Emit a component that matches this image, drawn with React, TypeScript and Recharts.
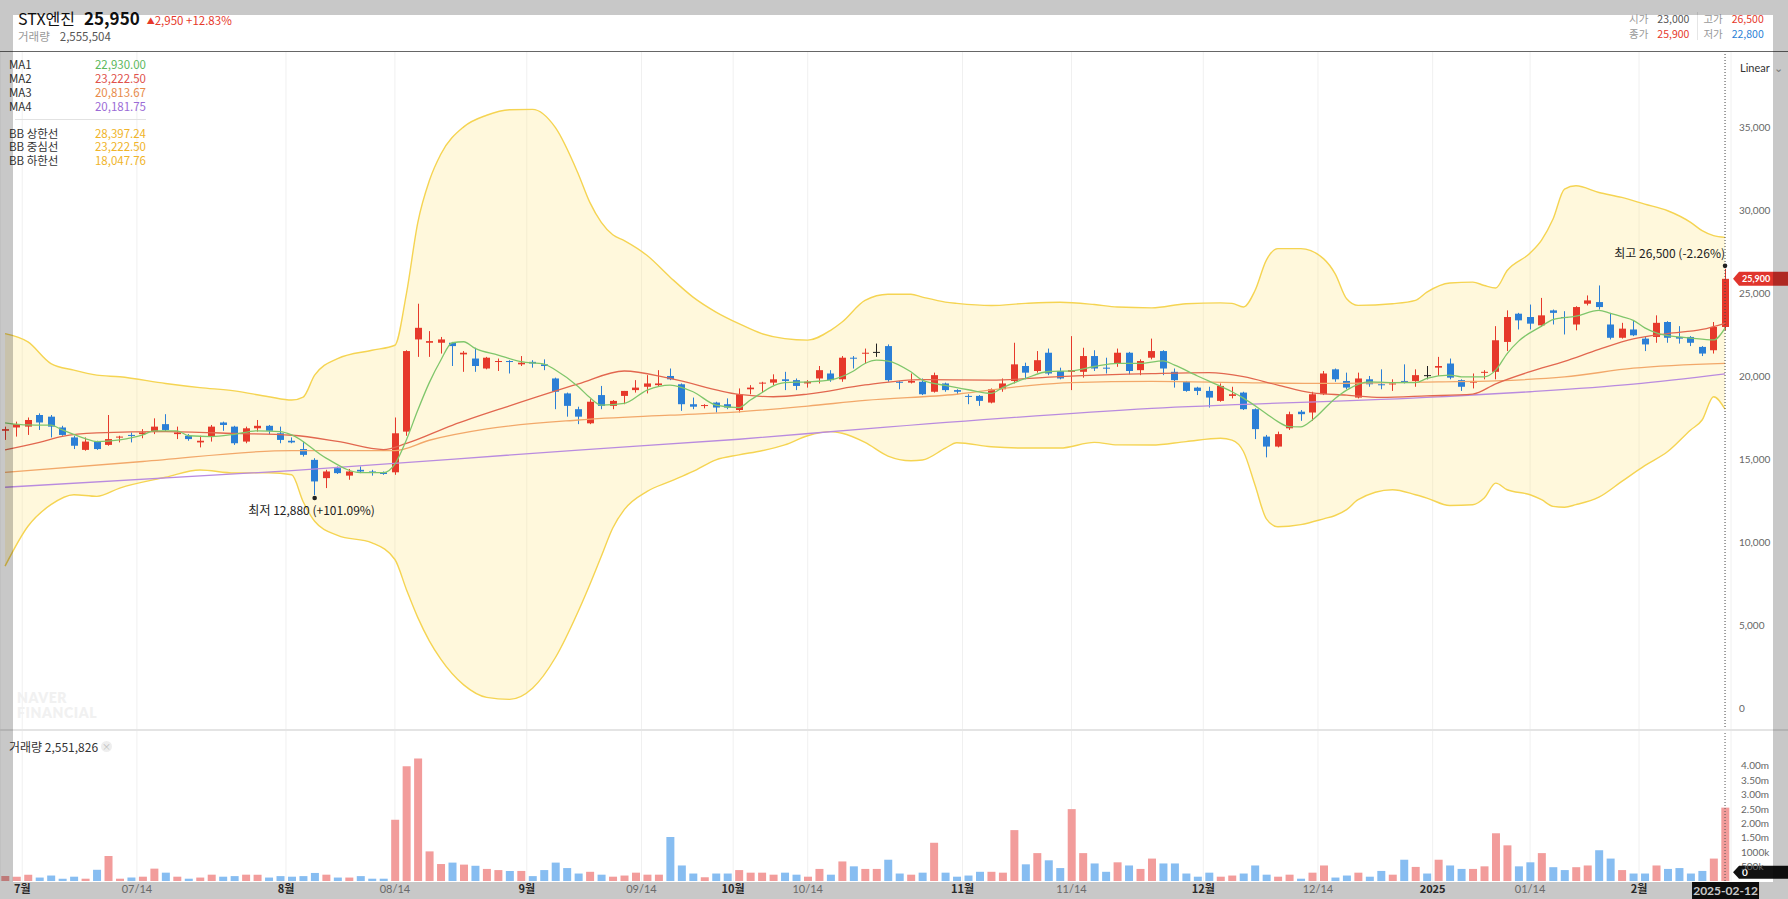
import React from "react";
import {
  ComposedChart,
  Bar,
  Line,
  Area,
  XAxis,
  YAxis,
  CartesianGrid,
  ReferenceLine,
  ReferenceDot,
  Cell,
} from "recharts";

// daily candles, 2024-06-27 .. 2025-02-12 (index 0..150)
const opens = [
  16750, 16950, 17000, 17700, 17600, 16950, 16350, 15600, 16100, 15900,
  16350, 16500, 16550, 16700, 17150, 16550, 16450, 16050, 16400, 17250,
  17000, 16100, 16900, 17050, 16600, 16150, 15650, 15000, 13900, 14500,
  14050, 14400, 14300, 14250, 14250, 16700, 22250, 22050, 22050, 22050,
  21350, 21100, 20500, 20900, 20950, 20750, 20900, 20750, 19900, 19000,
  18050, 17200, 18900, 18250, 18850, 19200, 19400, 19500, 20050, 19550,
  18350, 18250, 18450, 18350, 18000, 19250, 19600, 19650, 19850, 19800,
  19600, 19900, 20200, 19850, 21150, 21400, 21500, 21850, 19700, 19650,
  19700, 19100, 19600, 19200, 18850, 18850, 18450, 19250, 19750, 20650,
  20350, 21450, 20350, 20300, 20300, 21250, 20550, 20800, 21450, 20400,
  21150, 21550, 20300, 19700, 19350, 19150, 18550, 18850, 19050, 18050,
  16400, 15800, 16900, 17900, 17850, 18950, 20450, 19750, 18750, 19850,
  19550, 19550, 19750, 19750, 20100, 20550, 20800, 19800, 19650, 20250,
  20300, 22100, 23800, 23600, 23100, 24000, 23600, 23150, 24400, 24500,
  23150, 22350, 22850, 22300, 22400, 23300, 22400, 22400, 21800, 21600,
  23000,
];
const highs = [
  17000, 17300, 17550, 17800, 17700, 17050, 16450, 16350, 16150, 17700,
  16450, 16650, 16850, 17500, 17750, 17000, 16550, 16450, 17100, 17300,
  17050, 17000, 17400, 17100, 17000, 16350, 16100, 15100, 14400, 14600,
  14450, 14600, 14400, 14300, 17550, 21600, 24400, 22750, 22400, 22100,
  21550, 21750, 21200, 21100, 21000, 21250, 21000, 21050, 19950, 19050,
  18200, 18650, 19450, 18600, 19150, 19800, 20100, 20400, 20500, 19600,
  18750, 18350, 18500, 18700, 19300, 19500, 19700, 20150, 20300, 19900,
  19800, 20650, 20400, 21250, 21250, 21700, 22000, 21950, 19750, 20200,
  19900, 20250, 19650, 19250, 18950, 18900, 19300, 19900, 22050, 20850,
  21550, 21700, 20550, 22450, 21750, 21600, 21150, 21700, 21500, 21050,
  22300, 21600, 20500, 19750, 19400, 19400, 19600, 19400, 19100, 18100,
  16500, 16700, 17900, 18000, 19100, 20350, 20500, 20250, 20250, 20050,
  20450, 19850, 20750, 20450, 20650, 21200, 21100, 19850, 20200, 20400,
  23050, 24000, 23850, 24350, 24750, 24050, 23950, 24250, 24900, 25500,
  23850, 23250, 23400, 22400, 23700, 23350, 23050, 22450, 21850, 23300,
  26500,
];
const lows = [
  16200, 16400, 16500, 16800, 16350, 16450, 15650, 15550, 15600, 15850,
  16050, 16050, 16300, 16550, 16700, 16250, 16150, 15750, 16100, 16750,
  15900, 16000, 16700, 16550, 16000, 16000, 15200, 12880, 13300, 14150,
  13800, 14200, 14050, 14100, 14100, 16450, 21200, 21200, 21400, 20650,
  20300, 20300, 20450, 20350, 20200, 20650, 20550, 20400, 18050, 17600,
  17150, 17150, 18050, 18050, 18350, 19050, 19000, 19400, 19800, 17950,
  18050, 18100, 17850, 18050, 17850, 18950, 19050, 19500, 19200, 19200,
  19350, 19600, 19700, 19700, 20500, 20800, 21200, 19700, 19250, 19600,
  18900, 19050, 19100, 18950, 18350, 18250, 18400, 19100, 19600, 19850,
  20250, 20100, 19850, 19200, 19950, 20350, 20200, 20600, 20150, 20100,
  21050, 20100, 19350, 19100, 18900, 18150, 18500, 18700, 18000, 16250,
  15150, 15750, 16800, 17350, 17350, 18900, 19700, 19250, 18700, 19400,
  19250, 19150, 19600, 19400, 19850, 20050, 19850, 19150, 19300, 19850,
  19850, 21550, 22850, 22850, 23000, 23150, 22550, 22800, 24300, 24050,
  22250, 22300, 22450, 21550, 22050, 22050, 22000, 21850, 21250, 21400,
  22800,
];
const closes = [
  16850, 17150, 17400, 17250, 17000, 16500, 15850, 16100, 15650, 16250,
  16400, 16450, 16650, 17000, 16800, 16650, 16250, 16150, 17000, 17100,
  16000, 16900, 17050, 16750, 16200, 16050, 15300, 13700, 14300, 14200,
  14300, 14300, 14250, 14150, 16600, 21550, 22950, 22150, 22250, 21850,
  21450, 20650, 21150, 20950, 20900, 20850, 20800, 20650, 19100, 18250,
  17600, 18500, 18250, 18550, 19150, 19350, 19600, 19600, 19850, 18350,
  18200, 18300, 18150, 18150, 18950, 19350, 19650, 19850, 19750, 19450,
  19700, 20400, 19800, 21150, 21100, 21450, 21500, 19800, 19650, 19750,
  18950, 20100, 19200, 19100, 18800, 18550, 19250, 19600, 20750, 20250,
  21000, 20200, 19900, 20400, 21250, 20500, 20500, 21450, 20350, 20950,
  21550, 20500, 19800, 19150, 19150, 18750, 19450, 18950, 18050, 16850,
  15800, 16550, 17750, 17750, 18950, 20200, 19850, 19350, 19900, 19550,
  19500, 19600, 19700, 20100, 20100, 20650, 19950, 19400, 19750, 20300,
  22200, 23600, 23400, 23200, 23700, 23850, 23550, 24200, 24600, 24200,
  22350, 22900, 22500, 21950, 23250, 22350, 22300, 22050, 21400, 23000,
  25900,
];
// volume in thousands of shares
const volumesK = [
  170, 150, 220, 120, 190, 80, 150, 80, 390, 870,
  80, 120, 150, 430, 290, 150, 80, 120, 220, 150,
  170, 220, 220, 120, 170, 150, 170, 280, 220, 120,
  120, 170, 80, 80, 2130, 3990, 4260, 1030, 590, 640,
  570, 530, 420, 380, 350, 350, 170, 380, 640, 450,
  260, 320, 220, 150, 190, 290, 220, 220, 1530, 540,
  260, 130, 260, 260, 380, 290, 290, 220, 290, 220,
  150, 420, 220, 680, 510, 420, 420, 740, 260, 220,
  290, 1330, 290, 150, 190, 320, 320, 290, 1770, 580,
  970, 720, 450, 2500, 970, 610, 320, 650, 540, 420,
  780, 610, 610, 260, 150, 290, 150, 190, 260, 540,
  220, 150, 220, 80, 290, 540, 120, 190, 290, 150,
  350, 220, 740, 490, 260, 740, 540, 420, 420, 510,
  1660, 1240, 510, 650, 970, 480, 380, 480, 540, 1070,
  780, 380, 260, 260, 540, 420, 450, 260, 350, 780,
  2552,
];

// moving averages: [index, value]
const ma1Pts = [
  [0, 17230], [2, 17100], [4, 17090], [5, 16800], [7, 16280], [8, 16100], [10, 16200],
  [12, 16500], [13, 16750], [15, 16750], [16, 16450], [18, 16400], [20, 16540], [22, 16750],
  [24, 16700], [25, 16500], [28, 15100], [31, 14230], [33, 14230], [34, 14750], [35, 16200],
  [36, 18000], [37, 19650], [38, 21000], [39, 22050], [40, 22110], [41, 21710], [43, 21310],
  [45, 20910], [47, 20770], [48, 20410], [50, 19400], [51, 18750], [52, 18300], [54, 18400],
  [56, 19200], [58, 19500], [60, 19100], [62, 18300], [64, 18150], [65, 18600], [68, 19650],
  [70, 19700], [72, 19820], [74, 20350], [75, 20800], [76, 21000], [77, 20950], [79, 20300],
  [80, 19800], [82, 19480], [84, 19220], [86, 19000], [87, 19350], [89, 19900], [91, 20320],
  [93, 20360], [95, 20620], [97, 20810], [99, 20810], [101, 20960], [102, 20700], [104, 20050],
  [105, 19740], [107, 19100], [108, 18720], [110, 17780], [111, 17300], [112, 17000], [113, 16990],
  [114, 17400], [116, 18700], [117, 19200], [119, 19700], [121, 19650], [123, 19650], [124, 19900],
  [126, 20100], [127, 20000], [129, 20000], [130, 20400], [131, 21400], [132, 22150], [134, 23050],
  [135, 23450], [137, 23650], [139, 24000], [140, 23820], [141, 23620], [142, 23400], [143, 22950],
  [144, 22650], [145, 22480], [146, 22400], [147, 22330], [149, 22220], [150, 22930],
];
const ma2Pts = [
  [0, 15600], [3, 16050], [5, 16420], [8, 16620], [14, 16700], [20, 16590], [25, 16480],
  [29, 16110], [33, 15620], [35, 15990], [39, 17080], [44, 18250], [50, 19570], [54, 20350],
  [58, 19900], [64, 18940], [67, 18800], [70, 18960], [75, 19510], [80, 19830], [86, 19800],
  [92, 20010], [100, 20190], [105, 20250], [108, 20010], [111, 19500], [114, 19030], [117, 18900],
  [120, 18760], [124, 18850], [128, 18960], [130, 19580], [133, 20310], [136, 20930], [139, 21650],
  [142, 22280], [145, 22600], [148, 22850], [150, 23222],
];
const ma3Pts = [
  [0, 14250], [12, 14900], [25, 15560], [34, 15560], [37, 16180], [42, 16860], [50, 17400],
  [58, 17690], [64, 17890], [70, 18240], [75, 18580], [83, 18950], [89, 19450], [93, 19650],
  [100, 19720], [108, 19650], [114, 19600], [125, 19700], [130, 19760], [136, 19990], [142, 20520],
  [150, 20814],
];
const ma4Pts = [
  [0, 13350], [25, 14350], [50, 15590], [64, 16240], [75, 16870], [100, 18100], [125, 18790],
  [133, 19100], [142, 19560], [150, 20182],
];
// bollinger band: [index, upper, lower]
const bbPts = [
  [0, 22600, 8600], [2, 22100, 11000], [4, 20800, 12300], [6, 20400, 12900], [8, 20100, 12800],
  [10, 20000, 13300], [14, 19600, 13950], [17, 19350, 14390], [20, 19150, 14210], [23, 18800, 14225],
  [25, 18600, 14100], [26, 18780, 12480], [27, 20100, 11300], [29, 21100, 10450], [32, 21600, 10000],
  [34, 21900, 9000], [35, 25000, 7200], [36, 29300, 5500], [37, 31800, 4100], [38, 33400, 3000],
  [40, 35050, 1450], [42, 35750, 700], [44, 36080, 580], [46, 36100, 1250], [48, 35000, 3100],
  [50, 32200, 5900], [51, 30500, 7500], [52, 29300, 9200], [53, 28550, 10900], [54, 28200, 12000],
  [56, 27300, 13100], [58, 26000, 13700], [60, 24800, 14300], [62, 23900, 15000], [64, 23200, 15300],
  [66, 22600, 15550], [68, 22300, 15900], [70, 22210, 16450], [72, 22800, 16700], [73, 23300, 16600],
  [75, 24600, 16050], [77, 24970, 15230], [79, 24970, 14950], [80, 24800, 14990], [82, 24500, 15700],
  [83, 24420, 16030], [86, 24290, 15790], [89, 24420, 15710], [92, 24490, 15710], [95, 24350, 16050],
  [97, 24200, 15900], [100, 24150, 15890], [103, 24400, 16100], [106, 24450, 16300], [107, 24420, 16190],
  [108, 24200, 15500], [109, 25180, 13500], [110, 27030, 11450], [111, 27720, 10970], [113, 27720, 11100],
  [115, 27100, 11450], [116, 26200, 11650], [117, 24700, 12000], [118, 24300, 12600], [121, 24400, 13200],
  [123, 24600, 12900], [124, 25100, 12700], [126, 25650, 12250], [128, 25700, 12300], [129, 25500, 12700],
  [130, 25350, 13600], [131, 26400, 13200], [133, 27450, 12900], [134, 28230, 12600], [135, 29500, 12200],
  [136, 31300, 12150], [137, 31500, 12300], [139, 31100, 12750], [141, 30800, 13700], [143, 30400, 14650],
  [145, 30000, 15500], [147, 29300, 16800], [148, 28800, 17400], [149, 28500, 18800], [150, 28397, 18047],
];

const xTicks = [1.5, 11.5, 24.5, 34, 45.5, 55.5, 63.5, 70, 83.5, 93, 104.5, 114.5, 124.5, 133, 142.5];
const xTickLabels = ["7월", "07/14", "8월", "08/14", "9월", "09/14", "10월", "10/14", "11월", "11/14", "12월", "12/14", "2025", "01/14", "2월"];
const priceTicks = [0, 5000, 10000, 15000, 20000, 25000, 30000, 35000];
const volumeTicks = [500, 1000, 1500, 2000, 2500, 3000, 3500, 4000];

const maLegend = [
  ["MA1", "22,930.00", "#5cb85c"],
  ["MA2", "23,222.50", "#e0524c"],
  ["MA3", "20,813.67", "#e88b4a"],
  ["MA4", "20,181.75", "#9b6bd6"],
];
const bbLegend = [
  ["BB 상한선", "28,397.24"],
  ["BB 중심선", "23,222.50"],
  ["BB 하한선", "18,047.76"],
];

const RED = "#e6392b";
const BLUE = "#2b7fd6";
const VOL_RED = "#f29c9b";
const VOL_BLUE = "#87bdf1";
const KR = '"Noto Sans CJK KR", "Noto Sans", sans-serif';
const NUM = 'Lato, "Noto Sans", sans-serif';
const X_DOMAIN = [-0.44, 150.52];

const rows = closes.map((c, i) => {
  const o = opens[i];
  const prev = i > 0 ? closes[i - 1] : o;
  const up = c > o || (c === o && c > prev);
  return { i, o, h: highs[i], l: lows[i], c, range: [lows[i], highs[i]], vol: volumesK[i], up };
});
const toRows = (pts) => pts.map(([i, v]) => ({ i, v }));
const bbRows = bbPts.map(([i, u, l]) => ({ i, u, l, band: [l, u] }));

const Candle = (props) => {
  const { x, y, width, height, payload } = props;
  if (x == null || !payload) return null;
  const { o, h, l, c } = payload;
  const top = Math.min(y, y + height);
  const hh = Math.abs(height);
  const k = hh / (h - l);
  const yO = top + (h - o) * k;
  const yC = top + (h - c) * k;
  const color = c > o ? RED : c < o ? BLUE : "#222";
  const cx = Math.round(x + width / 2);
  const bt = Math.min(yO, yC);
  const bh = Math.max(1, Math.abs(yO - yC));
  return (
    <g>
      <line x1={cx + 0.5} x2={cx + 0.5} y1={top} y2={top + hh} stroke={color} strokeWidth={1} />
      <rect x={cx - 3} y={bt} width={7} height={bh} fill={color} />
    </g>
  );
};

const PriceTick = ({ x, y, payload }) => (
  <text x={x} y={y} dy={3.5} fontSize={10} fill="#666" fontFamily={NUM} textAnchor="start">
    {payload.value.toLocaleString("en-US")}
  </text>
);

const fmtVol = (v) => (v >= 1500 ? (v / 1000).toFixed(2) + "m" : v + "k");
const VolumeTick = ({ x, y, payload }) => (
  <text x={x} y={y} dy={3.5} fontSize={10} fill="#666" fontFamily={NUM} textAnchor="start">
    {fmtVol(payload.value)}
  </text>
);

const DateTick = ({ x, y, payload }) => {
  const idx = xTicks.indexOf(payload.value);
  const label = xTickLabels[idx];
  const bold = !label.includes("/");
  return (
    <text
      x={x}
      y={y}
      dy={10}
      fontSize={11}
      textAnchor="middle"
      fontFamily={bold ? KR : NUM}
      fontWeight={bold ? 700 : 400}
      fill={bold ? "#333" : "#888"}
    >
      {label}
    </text>
  );
};

const HighMark = ({ cx, cy }) => (
  <g>
    <circle cx={cx} cy={cy - 3} r={2.3} fill="#222" />
    <text x={cx} y={cy - 11} fontSize={12} fill="#222" textAnchor="end" fontFamily={KR}>
      최고 26,500 (-2.26%)
    </text>
  </g>
);

const LowMark = ({ cx, cy }) => (
  <g>
    <circle cx={cx} cy={cy + 3} r={2.3} fill="#222" />
    <text x={cx - 3} y={cy + 20} fontSize={12} fill="#222" textAnchor="middle" fontFamily={KR}>
      최저 12,880 (+101.09%)
    </text>
  </g>
);

const PriceTag = ({ cx, cy }) => (
  <g>
    <path
      d={`M${cx + 8},${cy} L${cx + 14},${cy - 7} L${cx + 70},${cy - 7} L${cx + 70},${cy + 7} L${cx + 14},${cy + 7} Z`}
      fill="#e0342c"
    />
    <text x={cx + 17} y={cy + 3.5} fontSize={9} fontWeight={700} fill="#fff" fontFamily={NUM}>
      25,900
    </text>
  </g>
);

const VolTag = ({ cx, cy }) => (
  <g>
    <path
      d={`M${cx + 8},${cy} L${cx + 14},${cy - 6.5} L${cx + 70},${cy - 6.5} L${cx + 70},${cy + 6.5} L${cx + 14},${cy + 6.5} Z`}
      fill="#111"
    />
    <text x={cx + 17} y={cy + 3.5} fontSize={10} fontWeight={700} fill="#fff" fontFamily={NUM}>
      0
    </text>
  </g>
);

const DateTag = ({ cx, cy }) => (
  <g>
    <rect x={cx - 33} y={cy + 1} width={67} height={18} fill="#111" />
    <text x={cx + 0.5} y={cy + 14} fontSize={12} fontWeight={700} fill="#fff" textAnchor="middle" fontFamily={NUM}>
      2025-02-12
    </text>
  </g>
);

const maLine = (pts, color, key) => (
  <Line
    key={key}
    data={toRows(pts)}
    dataKey="v"
    type="monotone"
    stroke={color}
    strokeWidth={1.3}
    dot={false}
    activeDot={false}
    connectNulls
    isAnimationActive={false}
  />
);

const abs = (style) => ({ position: "absolute", ...style });
const overlay = "rgba(0,0,0,0.215)";

export default function App() {
  return (
    <div style={abs({ left: 0, top: 0, width: 1788, height: 899, overflow: "hidden", background: "#fff", fontFamily: KR })}>
      {/* header */}
      <div style={abs({ left: 18, top: 5, display: "flex", alignItems: "baseline", whiteSpace: "nowrap" })}>
        <span style={{ fontSize: 16, color: "#111" }}>STX엔진</span>
        <span style={{ fontSize: 17, fontWeight: 700, color: "#111", marginLeft: 9 }}>25,950</span>
        <span style={{ fontSize: 11.5, color: RED, marginLeft: 7 }}>
          <span style={{ fontSize: 8, verticalAlign: 1 }}>▲</span>2,950 +12.83%
        </span>
      </div>
      <div style={abs({ left: 18, top: 28, fontSize: 11.5, whiteSpace: "nowrap" })}>
        <span style={{ color: "#999" }}>거래량</span>
        <span style={{ color: "#555", marginLeft: 10 }}>2,555,504</span>
      </div>
      <div style={abs({ left: 1629, top: 11, fontSize: 10.5, lineHeight: "15px", whiteSpace: "nowrap" })}>
        <div>
          <span style={{ color: "#999" }}>시가</span>
          <span style={{ color: "#555", marginLeft: 9 }}>23,000</span>
          <span style={{ color: "#999", marginLeft: 14 }}>고가</span>
          <span style={{ color: RED, marginLeft: 9 }}>26,500</span>
        </div>
        <div>
          <span style={{ color: "#999" }}>종가</span>
          <span style={{ color: RED, marginLeft: 9 }}>25,900</span>
          <span style={{ color: "#999", marginLeft: 14 }}>저가</span>
          <span style={{ color: BLUE, marginLeft: 9 }}>22,800</span>
        </div>
      </div>
      <div style={abs({ left: 1697, top: 12, width: 1, height: 28, background: "#e6e6e6" })} />
      <div style={abs({ left: 0, top: 51, width: 1788, height: 1, background: "#666" })} />

      {/* price panel */}
      <div style={abs({ left: 0, top: 52 })}>
        <ComposedChart width={1788} height={678} data={rows} margin={{ top: 0, right: 0, bottom: 0, left: 0 }}>
          <CartesianGrid horizontal={false} stroke="#f0f0f0" />
          <XAxis type="number" dataKey="i" domain={X_DOMAIN} ticks={xTicks} hide allowDataOverflow />
          <YAxis
            orientation="right"
            width={57}
            domain={[-1266, 39557]}
            ticks={priceTicks}
            interval={0}
            axisLine={false}
            tickLine={false}
            tickSize={0}
            tickMargin={8}
            tick={PriceTick}
            allowDataOverflow
          />
          <Area
            data={bbRows}
            dataKey="band"
            type="monotone"
            stroke="none"
            fill="rgba(255, 228, 120, 0.26)"
            fillOpacity={1}
            activeDot={false}
            isAnimationActive={false}
          />
          <Line data={bbRows} dataKey="u" type="monotone" stroke="#f5d452" strokeWidth={1.4} dot={false} activeDot={false} isAnimationActive={false} />
          <Line data={bbRows} dataKey="l" type="monotone" stroke="#f5d452" strokeWidth={1.4} dot={false} activeDot={false} isAnimationActive={false} />
          {maLine(ma4Pts, "#b98bdf", "ma4")}
          {maLine(ma3Pts, "#f2a86a", "ma3")}
          {maLine(ma2Pts, "#e2674f", "ma2")}
          {maLine(ma1Pts, "#7fc66b", "ma1")}
          <Bar dataKey="range" barSize={7} shape={Candle} isAnimationActive={false} />
          <ReferenceLine x={150} stroke="#444" strokeDasharray="1 2" />
          <ReferenceDot x={150} y={26500} shape={HighMark} />
          <ReferenceDot x={27} y={12880} shape={LowMark} />
          <ReferenceDot x={150} y={25900} shape={PriceTag} />
        </ComposedChart>
      </div>

      {/* legend */}
      {maLegend.map(([name, val, color], k) => (
        <div key={name} style={abs({ left: 9, top: 57 + k * 14, width: 137, fontSize: 11.5, lineHeight: "14px", display: "flex", justifyContent: "space-between" })}>
          <span style={{ color: "#333" }}>{name}</span>
          <span style={{ color }}>{val}</span>
        </div>
      ))}
      <div style={abs({ left: 15, top: 119, width: 131, height: 1, background: "#e2e2e2" })} />
      {bbLegend.map(([name, val], k) => (
        <div key={name} style={abs({ left: 9, top: 125.5 + k * 13.5, width: 137, fontSize: 11.5, lineHeight: "14px", display: "flex", justifyContent: "space-between" })}>
          <span style={{ color: "#333" }}>{name}</span>
          <span style={{ color: "#f0b429" }}>{val}</span>
        </div>
      ))}
      <div style={abs({ left: 1740, top: 61, fontSize: 11, color: "#333", fontFamily: NUM })}>Linear</div>
      <div style={abs({ left: 1774, top: 59, fontSize: 11, color: "#999" })}>⌄</div>
      <div style={abs({ left: 17, top: 690, fontSize: 14, fontWeight: 800, color: "#f1f1f1", lineHeight: "15px", letterSpacing: 0.6, fontFamily: NUM })}>
        NAVER
        <br />
        FINANCIAL
      </div>

      <div style={abs({ left: 0, top: 729, width: 1788, height: 2, background: "#e4e4e4" })} />

      {/* volume panel */}
      <div style={abs({ left: 0, top: 731 })}>
        <ComposedChart width={1788} height={168} data={rows} margin={{ top: 0, right: 0, bottom: 0, left: 0 }}>
          <CartesianGrid horizontal={false} stroke="#f0f0f0" />
          <XAxis
            type="number"
            dataKey="i"
            domain={X_DOMAIN}
            ticks={xTicks}
            interval={0}
            height={18}
            axisLine={false}
            tickLine={false}
            tickSize={0}
            tick={DateTick}
            allowDataOverflow
          />
          <YAxis
            orientation="right"
            width={57}
            domain={[0, 5217]}
            ticks={volumeTicks}
            interval={0}
            axisLine={false}
            tickLine={false}
            tickSize={0}
            tickMargin={10}
            tick={VolumeTick}
            allowDataOverflow
          />
          <Bar dataKey="vol" barSize={8} isAnimationActive={false}>
            {rows.map((r) => (
              <Cell key={r.i} fill={r.up ? VOL_RED : VOL_BLUE} />
            ))}
          </Bar>
          <ReferenceLine x={150} stroke="#555" strokeDasharray="1 2" />
          <ReferenceDot x={150} y={300} shape={VolTag} />
          <ReferenceDot x={150} y={0} shape={DateTag} />
        </ComposedChart>
      </div>
      <div style={abs({ left: 9, top: 738, fontSize: 12, color: "#333", whiteSpace: "nowrap" })}>
        거래량 2,551,826
      </div>
      <div style={abs({ left: 101, top: 741, width: 11, height: 11, borderRadius: 6, background: "#eeeeee", color: "#bbb", fontSize: 9, lineHeight: "11px", textAlign: "center" })}>×</div>

      {/* dim overlay around the chart card */}
      <div style={abs({ left: 0, top: 0, width: 1788, height: 15, background: overlay })} />
      <div style={abs({ left: 0, top: 15, width: 13, height: 884, background: overlay })} />
      <div style={abs({ left: 1773, top: 15, width: 15, height: 884, background: overlay })} />
      <div style={abs({ left: 13, top: 882, width: 1760, height: 17, background: overlay })} />
    </div>
  );
}
